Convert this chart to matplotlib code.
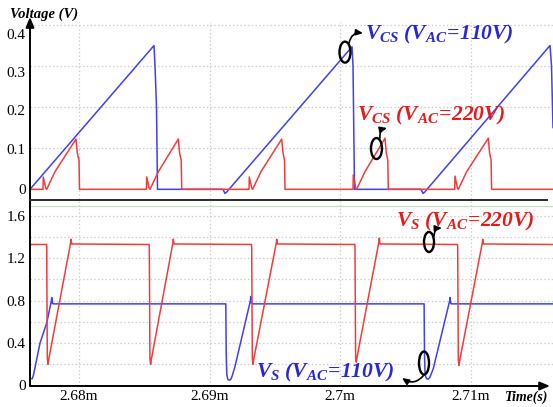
import matplotlib
matplotlib.use("Agg")
import matplotlib.pyplot as plt
from matplotlib.patches import Ellipse, FancyArrowPatch
from matplotlib.lines import Line2D
from matplotlib.transforms import ScaledTranslation

plt.rcParams['font.family'] = ['Liberation Serif', 'DejaVu Serif']
plt.rcParams['mathtext.fontset'] = 'custom'
plt.rcParams['mathtext.rm'] = 'Liberation Serif:bold:italic'
plt.rcParams['mathtext.it'] = 'Liberation Serif:bold:italic'
plt.rcParams['mathtext.bf'] = 'Liberation Serif:bold:italic'

# ---- time axis (ms) ----
t_min, t_max = 2.676248, 2.716294
x_ticks = [2.68, 2.69, 2.70, 2.71]
x_tick_labels = ['2.68m', '2.69m', '2.7m', '2.71m']

# ---- current-sense voltage, V_AC = 110 V ----
vcs110_t = [2.676248, 2.685743, 2.685819, 2.685934, 2.686011, 2.691026, 2.691179,
            2.691332, 2.691485, 2.700904, 2.700980, 2.701057, 2.701095, 2.706187,
            2.706340, 2.706493, 2.706646, 2.716064, 2.716179, 2.716294]
vcs110_v = [0.0, 0.349, 0.30, 0.20, 0.0, 0.0, -0.010,
            -0.006, 0.0, 0.346, 0.30, 0.10, 0.0, 0.0,
            -0.010, -0.006, 0.0, 0.349, 0.30, 0.15]

# ---- current-sense voltage, V_AC = 220 V ----
vcs220_t = [2.676248,
            2.677243, 2.677266, 2.677450, 2.677527, 2.678162, 2.679770, 2.679870, 2.680000, 2.680038,
            2.685161, 2.685184, 2.685368, 2.685436, 2.686080, 2.687603, 2.687703, 2.687825, 2.687864,
            2.693017, 2.693040, 2.693224, 2.693293, 2.693936, 2.695521, 2.695620, 2.695735, 2.695773,
            2.700980, 2.701003, 2.701187, 2.701256, 2.701899, 2.703430, 2.703530, 2.703645, 2.703683,
            2.708767, 2.708790, 2.708974, 2.709043, 2.709686, 2.711340, 2.711440, 2.711555, 2.711593,
            2.716294]
vcs220_v = [0.0,
            0.0, 0.030, 0.003, 0.0, 0.043, 0.122, 0.088, 0.071, 0.0,
            0.0, 0.030, 0.003, 0.0, 0.043, 0.122, 0.088, 0.071, 0.0,
            0.0, 0.030, 0.003, 0.0, 0.043, 0.122, 0.088, 0.071, 0.0,
            0.0, 0.035, 0.003, 0.0, 0.043, 0.124, 0.088, 0.071, 0.0,
            0.0, 0.032, 0.003, 0.0, 0.043, 0.124, 0.088, 0.071, 0.0,
            0.0]

# ---- switch voltage, V_AC = 110 V ----
vs110_t = [2.676248, 2.676424, 2.676516, 2.677014, 2.677527, 2.677887, 2.677910, 2.677963, 2.678047,
           2.691240, 2.691271, 2.691317, 2.691409, 2.691524, 2.691639, 2.691753, 2.691945,
           2.693124, 2.693147, 2.693201, 2.693285,
           2.706424, 2.706455, 2.706501, 2.706608, 2.706746, 2.706876, 2.707129,
           2.708384, 2.708407, 2.708461, 2.708545, 2.716294]
vs110_v = [0.065, 0.065, 0.10, 0.40, 0.59, 0.80, 0.83, 0.775, 0.77,
           0.77, 0.30, 0.10, 0.055, 0.05, 0.06, 0.10, 0.18,
           0.80, 0.84, 0.775, 0.77,
           0.77, 0.30, 0.10, 0.065, 0.06, 0.08, 0.16,
           0.80, 0.83, 0.775, 0.77, 0.77]

# ---- switch voltage, V_AC = 220 V ----
vs220_t = [2.676248,
           2.677512, 2.677527, 2.677573, 2.677626, 2.677688, 2.679364, 2.679387, 2.679441,
           2.685368, 2.685383, 2.685429, 2.685482, 2.685544, 2.687198, 2.687220, 2.687274,
           2.693208, 2.693224, 2.693270, 2.693323, 2.693384, 2.695115, 2.695138, 2.695191,
           2.701118, 2.701133, 2.701179, 2.701233, 2.701294, 2.702971, 2.702994, 2.703048,
           2.708982, 2.708997, 2.709043, 2.709097, 2.709158, 2.710888, 2.710911, 2.710965,
           2.716294]
vs220_v = [1.33,
           1.33, 1.30, 0.26, 0.20, 0.25, 1.35, 1.38, 1.335,
           1.33, 1.30, 0.26, 0.20, 0.25, 1.35, 1.38, 1.335,
           1.33, 1.30, 0.26, 0.20, 0.25, 1.35, 1.38, 1.335,
           1.33, 1.30, 0.26, 0.22, 0.27, 1.36, 1.39, 1.335,
           1.33, 1.30, 0.24, 0.19, 0.24, 1.35, 1.38, 1.335,
           1.33]

top_ticks = [0, 0.1, 0.2, 0.3, 0.4]
top_tick_labels = ['0', '0.1', '0.2', '0.3', '0.4']
bot_ticks = [0, 0.4, 0.8, 1.2, 1.6]
bot_tick_labels = ['0', '0.4', '0.8', '1.2', '1.6']
bot_grid = [0.2, 0.4, 0.6, 0.8, 1.0, 1.2, 1.4, 1.6]

BLUE = '#3f3ff4'
RED = '#f23c3c'
BLUE_TXT = '#2727d6'
RED_TXT = '#e61a1a'
GRID = '#cfcfcf'

W, H = 553, 407
fig = plt.figure(figsize=(W / 100, H / 100), dpi=100)
fig.patch.set_facecolor('white')


def fx(x):
    return x / W


def fy(y):
    return 1 - y / H


ax1 = fig.add_axes([fx(30), fy(199), fx(553) - fx(30), fy(22) - fy(199)])
ax2 = fig.add_axes([fx(30), fy(385.5), fx(553) - fx(30), fy(200.5) - fy(385.5)])

for ax in (ax1, ax2):
    ax.set_xlim(t_min, t_max)
    for s in ax.spines.values():
        s.set_visible(False)
    ax.tick_params(length=0, labelsize=11, pad=3)
    ax.set_xticks(x_ticks)
    for xt in x_ticks:
        ax.axvline(xt, color=GRID, lw=0.9, ls=(0, (1.2, 1.8)), zorder=0)

ax1.set_ylim(-0.0235, 0.4061)
ax1.set_yticks(top_ticks)
ax1.set_yticklabels(top_tick_labels)
ax1.set_xticklabels([])
for yv in top_ticks[1:]:
    ax1.axhline(yv, color=GRID, lw=0.9, ls=(0, (1.2, 1.8)), zorder=0)
# upper labels sit a little below their grid lines, clear of the axis title
for lab, dy_px in zip(ax1.get_yticklabels(), [0, 1, 3, 6, 9]):
    lab.set_transform(lab.get_transform() + ScaledTranslation(0, -dy_px / 100, fig.dpi_scale_trans))

ax2.set_ylim(0, 1.745)
ax2.set_yticks(bot_ticks)
ax2.set_yticklabels(bot_tick_labels)
ax2.set_xticklabels(x_tick_labels)
for yv in bot_grid:
    ax2.axhline(yv, color=GRID, lw=0.9, ls=(0, (1.2, 1.8)), zorder=0)
ax2.axhline(1.695, color='#bfe3bf', lw=0.8, zorder=0)

ax1.plot(vcs110_t, vcs110_v, color=BLUE, lw=1.1, zorder=2)
ax1.plot(vcs220_t, vcs220_v, color=RED, lw=1.1, zorder=3)
ax2.plot(vs110_t, vs110_v, color=BLUE, lw=1.1, zorder=2)
ax2.plot(vs220_t, vs220_v, color=RED, lw=1.1, zorder=3)

# axis frame: vertical arrow, separator, horizontal arrow
fig.add_artist(FancyArrowPatch((fx(30), fy(386)), (fx(30), fy(17)), transform=fig.transFigure,
                               arrowstyle='-|>,head_length=0.6,head_width=0.25',
                               mutation_scale=10, color='black', lw=1.4,
                               shrinkA=0, shrinkB=0))
fig.add_artist(FancyArrowPatch((fx(30), fy(386)), (fx(550), fy(386)), transform=fig.transFigure,
                               arrowstyle='-|>,head_length=0.6,head_width=0.25',
                               mutation_scale=10, color='black', lw=1.4,
                               shrinkA=0, shrinkB=0))
fig.add_artist(Line2D([fx(30), fx(547)], [fy(200), fy(200)], transform=fig.transFigure,
                      color='#2a2a2a', lw=1.4))

fig.text(fx(10), fy(14), 'Voltage (V)', fontsize=10.5, fontweight='bold', fontstyle='italic',
         ha='left', va='center')
fig.text(fx(548), fy(397), 'Time(s)', fontsize=10, fontweight='bold', fontstyle='italic',
         ha='right', va='center')

# labels with ellipse markers and curved arrows
fs = 15.5
ax1.text(2.701900, 0.3636, r'$V_{CS}\ (V_{AC}\!=\!110V)$', color=BLUE_TXT, fontsize=fs,
         ha='left', va='baseline')
ax1.text(2.701287, 0.168, r'$V_{CS}\ (V_{AC}\!=\!220V)$', color=RED_TXT, fontsize=fs,
         ha='left', va='baseline')
ax2.text(2.704273, 1.498, r'$V_{S}\ (V_{AC}\!=\!220V)$', color=RED_TXT, fontsize=fs,
         ha='left', va='baseline')
ax2.text(2.693553, 0.071, r'$V_{S}\ (V_{AC}\!=\!110V)$', color=BLUE_TXT, fontsize=fs,
         ha='left', va='baseline')

ell_kw = dict(fill=False, edgecolor='black', lw=1.7, zorder=5)
ax1.add_patch(Ellipse((2.700367, 0.333), 0.000842, 0.051, **ell_kw))
ax1.add_patch(Ellipse((2.702778, 0.099), 0.000842, 0.051, **ell_kw))
ax2.add_patch(Ellipse((2.706800, 1.354), 0.000766, 0.189, **ell_kw))
ax2.add_patch(Ellipse((2.706417, 0.212), 0.000766, 0.217, **ell_kw))

arr_kw = dict(arrowstyle='-|>,head_length=0.45,head_width=0.2', mutation_scale=9,
              color='black', lw=1.2, zorder=6, shrinkA=0, shrinkB=0)
ax1.add_patch(FancyArrowPatch((2.700674, 0.355), (2.701746, 0.379),
                              connectionstyle='arc3,rad=-0.45', **arr_kw))
ax1.add_patch(FancyArrowPatch((2.703047, 0.1245), (2.703583, 0.1488),
                              connectionstyle='arc3,rad=-0.45', **arr_kw))
ax2.add_patch(FancyArrowPatch((2.707183, 1.410), (2.707795, 1.486),
                              connectionstyle='arc3,rad=-0.45', **arr_kw))
ax2.add_patch(FancyArrowPatch((2.706417, 0.099), (2.704732, 0.071),
                              connectionstyle='arc3,rad=-0.45', **arr_kw))

fig.savefig('out.png', dpi=100)
